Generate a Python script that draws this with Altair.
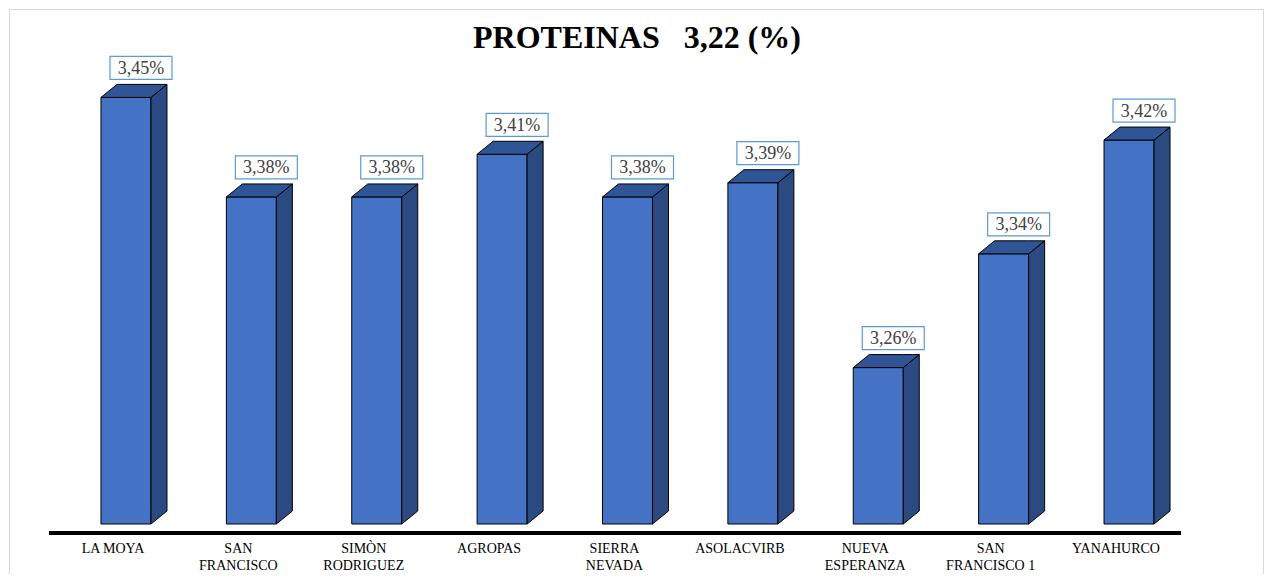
import altair as alt
import pandas as pd

# ---- data ----
categories = ["LA MOYA", "SAN\nFRANCISCO", "SIMÒN\nRODRIGUEZ", "AGROPAS", "SIERRA\nNEVADA",
              "ASOLACVIRB", "NUEVA\nESPERANZA", "SAN\nFRANCISCO 1", "YANAHURCO"]
values = [3.45, 3.38, 3.38, 3.41, 3.38, 3.39, 3.26, 3.34, 3.42]
value_labels = ["3,45%", "3,38%", "3,38%", "3,41%", "3,38%", "3,39%", "3,26%", "3,34%", "3,42%"]
title_text = "PROTEINAS\u00a0\u00a0\u00a03,22 (%)"

# ---- geometry / scale settings ----
W, H = 1256, 566
x_dom = [-0.941, 9.0766]
y_dom = [3.11484, 3.51287]
BASE = 3.15
sx = W / (x_dom[1] - x_dom[0])      # px per category unit
sy = H / (y_dom[1] - y_dom[0])      # px per value unit
half = 25 / sx                       # half front width
dxu = 16 / sx                        # depth in x
dyu = 13 / sy                        # depth in y

front_rows, side_rows, top_rows, box_rows = [], [], [], []
for i, (c, v, lab) in enumerate(zip(categories, values, value_labels)):
    front_rows.append(dict(cat=c, i=i, x1=i - half, x2=i + half, v=v, base=BASE))
    side_rows += [
        dict(cat=c, x=i + half, top=v, bot=BASE),
        dict(cat=c, x=i + half + dxu, top=v + dyu, bot=BASE + dyu),
    ]
    top_rows += [
        dict(cat=c, x=i - half, top=v, bot=v),
        dict(cat=c, x=i - half + dxu, top=v + dyu, bot=v),
        dict(cat=c, x=i + half, top=v + dyu, bot=v),
        dict(cat=c, x=i + half + dxu, top=v + dyu, bot=v + dyu),
    ]
    cx = i + 15 / sx
    b0 = v + dyu + 5 / sy
    box_rows.append(dict(cat=c, label=lab, bx1=cx - 31 / sx, bx2=cx + 31 / sx,
                         by1=b0, by2=b0 + 23 / sy, cx=cx, cy=b0 + 11.5 / sy))

front = pd.DataFrame(front_rows)
side = pd.DataFrame(side_rows)
top = pd.DataFrame(top_rows)
boxes = pd.DataFrame(box_rows)
cats = pd.DataFrame({"cat": categories, "i": list(range(len(categories)))})

xs = alt.Scale(domain=x_dom, nice=False, zero=False)
ys = alt.Scale(domain=y_dom, nice=False, zero=False)
SERIF = "Liberation Serif"

front_l = alt.Chart(front).mark_rect(fill="#4472C4", stroke="black", strokeWidth=1).encode(
    x=alt.X("x1:Q", scale=xs, axis=None), x2="x2:Q",
    y=alt.Y("v:Q", scale=ys, axis=None), y2="base:Q")

side_l = alt.Chart(side).mark_area(fill="#2C4A82", stroke="black", strokeWidth=1,
                                   interpolate="linear", opacity=1).encode(
    x=alt.X("x:Q", scale=xs, axis=None),
    y=alt.Y("top:Q", scale=ys, axis=None, stack=None), y2="bot:Q",
    detail="cat:N")

top_l = alt.Chart(top).mark_area(fill="#2F5597", stroke="black", strokeWidth=1,
                                 interpolate="linear", opacity=1).encode(
    x=alt.X("x:Q", scale=xs, axis=None),
    y=alt.Y("top:Q", scale=ys, axis=None, stack=None), y2="bot:Q",
    detail="cat:N")

box_l = alt.Chart(boxes).mark_rect(fill="white", stroke="#5B9BD5", strokeWidth=1.2).encode(
    x=alt.X("bx1:Q", scale=xs, axis=None), x2="bx2:Q",
    y=alt.Y("by1:Q", scale=ys, axis=None), y2="by2:Q")

lab_l = alt.Chart(boxes).mark_text(font=SERIF, fontSize=18, color="#404040",
                                   align="center", baseline="middle", dy=1).encode(
    x=alt.X("cx:Q", scale=xs, axis=None),
    y=alt.Y("cy:Q", scale=ys, axis=None),
    text="label:N")

cat_l = alt.Chart(cats).mark_text(font=SERIF, fontSize=14, color="#000000",
                                  align="center", baseline="top", lineBreak="\n",
                                  lineHeight=17, xOffset=-13).encode(
    x=alt.X("i:Q", scale=xs, axis=None),
    y=alt.value(534),
    text="cat:N")

axis_l = alt.Chart(cats).mark_rule(color="black", strokeWidth=3).encode(
    x=alt.value(41), x2=alt.value(1173), y=alt.value(525))

title_l = alt.Chart(pd.DataFrame({"t": [title_text]})).mark_text(
    font=SERIF, fontSize=32, fontWeight="bold", color="black",
    align="center", baseline="alphabetic").encode(
    x=alt.value(629), y=alt.value(40), text="t:N")

frame_df = pd.DataFrame({"k": [0]})
frame_left = alt.Chart(frame_df).mark_rule(color="#d9d9d9", strokeWidth=1).encode(
    x=alt.value(1.5), y=alt.value(1.5), y2=alt.value(H))
frame_top = alt.Chart(frame_df).mark_rule(color="#d9d9d9", strokeWidth=1).encode(
    x=alt.value(1.5), x2=alt.value(W - 0.5), y=alt.value(1.5))
frame_right = alt.Chart(frame_df).mark_rule(color="#d9d9d9", strokeWidth=1).encode(
    x=alt.value(W - 0.5), y=alt.value(1.5), y2=alt.value(H))

chart = alt.layer(
    frame_left, frame_top, frame_right,
    axis_l, front_l, side_l, top_l, box_l, lab_l, cat_l, title_l
).properties(
    width=W, height=H, padding=0,
    autosize=alt.AutoSizeParams(type="none"),
    background="white",
).configure_view(stroke=None)

chart.save("out.html", embed_options={"renderer": "svg", "actions": False})
